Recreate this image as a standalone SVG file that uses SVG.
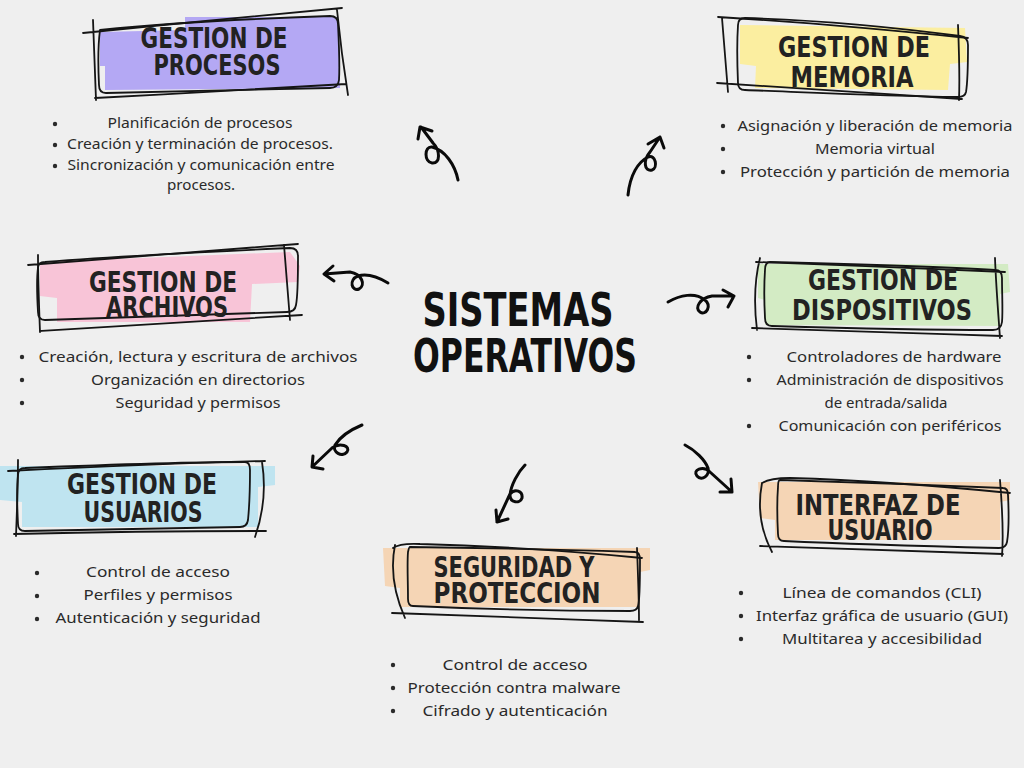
<svg xmlns="http://www.w3.org/2000/svg" width="1024" height="768" viewBox="0 0 1024 768">
<style>
.hd{font-family:"Liberation Sans Narrow","DejaVu Sans Condensed","Liberation Sans",sans-serif;font-weight:bold;font-size:28px;fill:#222;text-anchor:middle}
.ct{font-family:"Liberation Sans Narrow","DejaVu Sans Condensed","Liberation Sans",sans-serif;font-weight:bold;font-size:46px;fill:#111;text-anchor:middle}
.bd{font-family:"Noto Sans","DejaVu Sans",sans-serif;font-size:15px;fill:#2a2a2a;text-anchor:middle}
.sk{fill:none;stroke:#151515;stroke-width:1.8;stroke-linecap:round;stroke-linejoin:round}
.ar{fill:none;stroke:#0a0a0a;stroke-width:3;stroke-linecap:round;stroke-linejoin:round}
.bl{fill:#2a2a2a}
</style>
<rect width="1024" height="768" fill="#efefef"/>

<g id="center">
<text class="ct" x="518" y="326" textLength="191" lengthAdjust="spacingAndGlyphs">SISTEMAS</text>
<text class="ct" x="525" y="372" textLength="224" lengthAdjust="spacingAndGlyphs">OPERATIVOS</text>
</g>

<g id="procesos">
<path d="M100,32 L185,30 L185,17 L338,17 L340,88 L105,90 L105,66 L100,66 Z" fill="#b4a8f4"/>
<path class="sk" d="M83,33 C170,24 260,16 342,8 M93,20 C94,50 95,80 96,100 M95,98 C180,94 270,88 346,84 M337,10 C340,40 344,70 348,95"/>
<path class="sk" d="M100,30 C180,22 270,18 330,16 Q338,16 338,24 C339,45 340,65 339,80 Q338,88 330,88 C250,90 170,92 106,93 Q99,93 99,85 C98,65 98,45 100,30 Z"/>
<text class="hd" x="214" y="48" textLength="147" lengthAdjust="spacingAndGlyphs">GESTION DE</text>
<text class="hd" x="217" y="75" textLength="127" lengthAdjust="spacingAndGlyphs">PROCESOS</text>
<circle class="bl" cx="55" cy="124" r="2.2"/><circle class="bl" cx="55" cy="145" r="2.2"/><circle class="bl" cx="55" cy="166" r="2.2"/>
<text class="bd" x="200" y="128" textLength="185" lengthAdjust="spacingAndGlyphs">Planificación de procesos</text>
<text class="bd" x="200" y="149" textLength="266" lengthAdjust="spacingAndGlyphs">Creación y terminación de procesos.</text>
<text class="bd" x="201" y="170" textLength="267" lengthAdjust="spacingAndGlyphs">Sincronización y comunicación entre</text>
<text class="bd" x="201" y="190" textLength="68" lengthAdjust="spacingAndGlyphs">procesos.</text>
</g>

<g id="memoria">
<path d="M740,25 L965,28 L967,62 L950,64 L948,90 L755,88 L756,66 L740,64 Z" fill="#fbeea0"/>
<path class="sk" d="M718,17 C800,22 890,30 968,38 M722,18 C724,45 726,70 728,92 M717,83 C800,88 880,94 962,99 M958,25 C959,50 960,75 959,100"/>
<path class="sk" d="M745,18 C820,20 900,28 960,36 Q968,37 968,45 C968,60 968,80 966,92 Q965,97 958,97 C880,96 800,92 745,90 Q738,90 738,83 C737,60 737,40 738,25 Q738,18 745,18 Z"/>
<text class="hd" x="854" y="57" textLength="152" lengthAdjust="spacingAndGlyphs">GESTION DE</text>
<text class="hd" x="852" y="87" textLength="123" lengthAdjust="spacingAndGlyphs">MEMORIA</text>
<circle class="bl" cx="723" cy="126" r="2.2"/><circle class="bl" cx="723" cy="149" r="2.2"/><circle class="bl" cx="723" cy="172" r="2.2"/>
<text class="bd" x="875" y="131" textLength="275" lengthAdjust="spacingAndGlyphs">Asignación y liberación de memoria</text>
<text class="bd" x="875" y="154" textLength="120" lengthAdjust="spacingAndGlyphs">Memoria virtual</text>
<text class="bd" x="875" y="177" textLength="270" lengthAdjust="spacingAndGlyphs">Protección y partición de memoria</text>
</g>

<g id="archivos">
<path d="M40,262 L290,252 L300,266 L298,282 L252,284 L250,322 L57,322 L57,298 L40,296 Z" fill="#f8c4d7"/>
<path class="sk" d="M28,265 C120,258 210,250 298,244 M38,255 C38,280 39,305 40,332 M40,331 C130,326 220,320 302,315 M284,245 C286,270 288,295 290,320"/>
<path class="sk" d="M45,262 C120,256 200,252 290,248 Q298,248 298,256 C298,275 298,295 296,305 Q295,312 287,312 C200,315 120,318 45,320 Q38,320 38,312 C37,295 37,275 38,268 Q38,262 45,262 Z"/>
<text class="hd" x="163" y="292" textLength="148" lengthAdjust="spacingAndGlyphs">GESTION DE</text>
<text class="hd" x="167" y="317" textLength="122" lengthAdjust="spacingAndGlyphs">ARCHIVOS</text>
<circle class="bl" cx="22" cy="357" r="2.2"/><circle class="bl" cx="22" cy="380" r="2.2"/><circle class="bl" cx="22" cy="403" r="2.2"/>
<text class="bd" x="198" y="362" textLength="319" lengthAdjust="spacingAndGlyphs">Creación, lectura y escritura de archivos</text>
<text class="bd" x="198" y="385" textLength="214" lengthAdjust="spacingAndGlyphs">Organización en directorios</text>
<text class="bd" x="198" y="408" textLength="165" lengthAdjust="spacingAndGlyphs">Seguridad y permisos</text>
</g>

<g id="dispositivos">
<path d="M758,264 L1008,264 L1010,292 L1000,294 L1000,326 L765,325 L765,300 L758,298 Z" fill="#d3ebc4"/>
<path class="sk" d="M756,262 C840,265 920,268 1005,272 M760,258 Q752,290 757,330 M752,328 C840,331 920,333 1002,336 M995,258 C996,285 998,310 1000,338"/>
<path class="sk" d="M770,262 C850,264 930,266 995,270 Q1002,270 1002,278 C1002,295 1003,312 1002,322 Q1001,330 993,330 C910,330 840,328 772,326 Q765,326 765,318 C764,300 764,285 765,270 Q765,262 770,262 Z"/>
<text class="hd" x="883" y="290" textLength="150" lengthAdjust="spacingAndGlyphs">GESTION DE</text>
<text class="hd" x="882" y="320" textLength="180" lengthAdjust="spacingAndGlyphs">DISPOSITIVOS</text>
<circle class="bl" cx="749" cy="357" r="2.2"/><circle class="bl" cx="749" cy="380" r="2.2"/><circle class="bl" cx="749" cy="426" r="2.2"/>
<text class="bd" x="894" y="362" textLength="215" lengthAdjust="spacingAndGlyphs">Controladores de hardware</text>
<text class="bd" x="890" y="385" textLength="227" lengthAdjust="spacingAndGlyphs">Administración de dispositivos</text>
<text class="bd" x="886" y="408" textLength="123" lengthAdjust="spacingAndGlyphs">de entrada/salida</text>
<text class="bd" x="890" y="431" textLength="223" lengthAdjust="spacingAndGlyphs">Comunicación con periféricos</text>
</g>

<g id="usuarios">
<path d="M0,466 L275,466 L275,485 L258,487 L258,527 L22,527 L22,502 L0,500 Z" fill="#bfe4f0"/>
<path class="sk" d="M8,471 C90,467 180,463 265,461 M18,460 C18,485 17,510 16,536 M14,534 C100,532 180,531 266,531 M262,462 Q268,500 255,537"/>
<path class="sk" d="M25,468 C100,465 180,462 245,462 Q250,462 250,470 C250,490 249,510 248,520 Q247,527 240,527 C170,528 100,530 25,531 Q18,531 18,524 C17,505 17,485 18,475 Q18,468 25,468 Z"/>
<text class="hd" x="142" y="494" textLength="150" lengthAdjust="spacingAndGlyphs">GESTION DE</text>
<text class="hd" x="143" y="522" textLength="119" lengthAdjust="spacingAndGlyphs">USUARIOS</text>
<circle class="bl" cx="37" cy="573" r="2.2"/><circle class="bl" cx="37" cy="596" r="2.2"/><circle class="bl" cx="37" cy="619" r="2.2"/>
<text class="bd" x="158" y="577" textLength="144" lengthAdjust="spacingAndGlyphs">Control de acceso</text>
<text class="bd" x="158" y="600" textLength="149" lengthAdjust="spacingAndGlyphs">Perfiles y permisos</text>
<text class="bd" x="158" y="623" textLength="205" lengthAdjust="spacingAndGlyphs">Autenticación y seguridad</text>
</g>

<g id="seguridad">
<path d="M383,548 L650,548 L650,570 L640,572 L640,607 L400,607 L400,588 L385,586 Z" fill="#f5d5b5"/>
<path class="sk" d="M393,548 Q400,543 420,544 C500,546 580,552 642,558 M395,545 Q388,580 405,618 M392,613 C480,616 560,619 643,622 M637,548 C638,575 639,600 639,620"/>
<path class="sk" d="M410,547 C490,548 570,550 635,552 Q640,552 640,560 C640,580 640,600 638,606 Q637,611 630,611 C550,611 480,609 413,606 Q408,606 408,599 C408,580 407,565 408,552 Q409,547 410,547 Z"/>
<text class="hd" x="514" y="577" textLength="161" lengthAdjust="spacingAndGlyphs">SEGURIDAD Y</text>
<text class="hd" x="517" y="603" textLength="167" lengthAdjust="spacingAndGlyphs">PROTECCION</text>
<circle class="bl" cx="393" cy="665" r="2.2"/><circle class="bl" cx="393" cy="688" r="2.2"/><circle class="bl" cx="393" cy="711" r="2.2"/>
<text class="bd" x="515" y="670" textLength="145" lengthAdjust="spacingAndGlyphs">Control de acceso</text>
<text class="bd" x="514" y="693" textLength="213" lengthAdjust="spacingAndGlyphs">Protección contra malware</text>
<text class="bd" x="515" y="716" textLength="185" lengthAdjust="spacingAndGlyphs">Cifrado y autenticación</text>
</g>

<g id="interfaz">
<path d="M758,482 L1010,482 L1010,500 L1000,502 L1000,540 L775,540 L775,520 L760,518 Z" fill="#f5d5b5"/>
<path class="sk" d="M762,483 Q770,478 790,478 C860,480 940,486 1010,493 M762,483 Q755,520 772,552 M760,546 C840,548 920,551 1003,554 M1000,480 C1002,505 1004,530 1002,556"/>
<path class="sk" d="M780,480 C850,482 930,485 1003,488 Q1008,488 1008,495 C1009,515 1009,530 1007,542 Q1006,548 999,548 C920,546 850,544 784,541 Q778,541 778,534 C777,515 777,500 778,487 Q778,480 780,480 Z"/>
<text class="hd" x="878" y="515" textLength="165" lengthAdjust="spacingAndGlyphs">INTERFAZ DE</text>
<text class="hd" x="880" y="540" textLength="105" lengthAdjust="spacingAndGlyphs">USUARIO</text>
<circle class="bl" cx="741" cy="593" r="2.2"/><circle class="bl" cx="741" cy="616" r="2.2"/><circle class="bl" cx="741" cy="639" r="2.2"/>
<text class="bd" x="882" y="598" textLength="199" lengthAdjust="spacingAndGlyphs">Línea de comandos (CLI)</text>
<text class="bd" x="882" y="621" textLength="252" lengthAdjust="spacingAndGlyphs">Interfaz gráfica de usuario (GUI)</text>
<text class="bd" x="882" y="644" textLength="200" lengthAdjust="spacingAndGlyphs">Multitarea y accesibilidad</text>
</g>

<g id="connectors">
<path class="ar" d="M458,180 C455,165 445,150 432,147 C424,146 424,162 432,163 C441,164 440,150 433,143 L421,127 M418,139 L420,127 L432,131"/>
<path class="ar" d="M628,195 C630,175 638,162 648,157 C656,154 658,168 652,170 C644,172 643,160 650,152 L660,137 M648,144 L660,137 L664,148"/>
<path class="ar" d="M388,283 C378,277 368,273 358,276 C348,280 352,292 359,289 C366,285 362,274 350,272 L324,274 M333,266 L324,274 L334,281"/>
<path class="ar" d="M668,302 C680,295 695,292 705,300 C712,306 706,316 700,312 C694,308 700,298 712,296 L734,296 M723,290 L734,296 L728,307"/>
<path class="ar" d="M362,425 C350,430 340,437 335,445 C332,452 342,458 347,452 C351,446 340,442 332,448 L312,467 M313,456 L312,467 L323,469"/>
<path class="ar" d="M525,465 C518,472 511,485 510,495 C510,503 520,504 522,498 C523,491 515,488 510,494 L497,522 M496,510 L497,522 L508,519"/>
<path class="ar" d="M685,445 C695,450 705,460 708,468 C710,475 702,482 697,476 C692,470 703,465 710,472 L732,492 M731,479 L732,492 L720,492"/>
</g>
</svg>
